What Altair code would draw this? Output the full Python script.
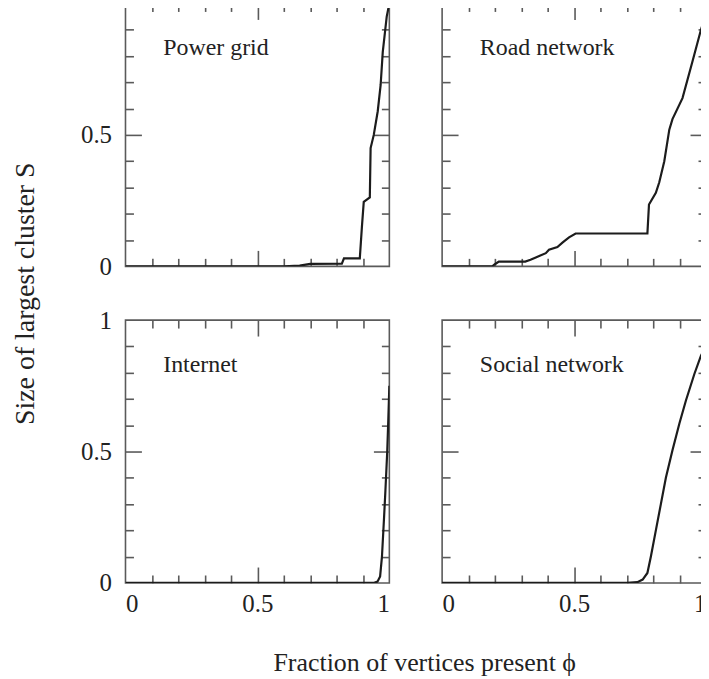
import altair as alt
import pandas as pd

# ---- data ----
phi_power = [0, 0.60, 0.66, 0.70, 0.82, 0.828, 0.888, 0.896, 0.903, 0.926, 0.929, 0.941, 0.956, 0.967, 0.975, 0.99, 1.0]
S_power = [0, 0, 0.003, 0.009, 0.010, 0.030, 0.030, 0.15, 0.245, 0.262, 0.45, 0.50, 0.59, 0.69, 0.815, 0.95, 1.0]

phi_road = [0, 0.19, 0.20, 0.215, 0.315, 0.335, 0.355, 0.393, 0.405, 0.437, 0.456, 0.481, 0.506, 0.778, 0.784, 0.81, 0.823, 0.842, 0.861, 0.873, 0.911, 0.949, 0.981, 1.0]
S_road = [0, 0, 0.008, 0.018, 0.018, 0.025, 0.034, 0.05, 0.063, 0.073, 0.09, 0.11, 0.125, 0.125, 0.235, 0.28, 0.32, 0.40, 0.52, 0.56, 0.64, 0.78, 0.90, 0.96]

phi_internet = [0, 0.94, 0.955, 0.965, 0.972, 0.98, 0.985, 0.992, 0.996, 1.0]
S_internet = [0, 0, 0.005, 0.025, 0.10, 0.25, 0.35, 0.50, 0.62, 0.75]

phi_social = [0, 0.70, 0.74, 0.76, 0.778, 0.791, 0.81, 0.829, 0.848, 0.873, 0.899, 0.924, 0.956, 0.981, 1.0]
S_social = [0, 0, 0.003, 0.013, 0.038, 0.10, 0.20, 0.30, 0.40, 0.505, 0.606, 0.694, 0.795, 0.865, 0.90]

panel_names = ["Power grid", "Road network", "Internet", "Social network"]
minor_ticks = [0.1, 0.2, 0.3, 0.4, 0.5, 0.6, 0.7, 0.8, 0.9]
label_vals = [0, 0.5, 1]
top_label_vals = [0, 0.5]
x_title = "Fraction of vertices present  \u03d5"
y_title = "Size of largest cluster   S"

# ---- style ----
FONT = "Liberation Serif"
TXT = "#222222"
AX = "#5a5a5a"
LINE = "#1c1c1c"
W = 265
H = 264
NAME_X = 0.143   # panel-name anchor, in data units
NAME_Y = 0.803

tick_len = {"condition": {"test": "abs(datum.value - 0.5) < 0.01", "value": 16}, "value": 8}


def tick_axis(orient, offset):
    return alt.Axis(orient=orient, offset=offset, values=minor_ticks, labels=False,
                    domain=False, grid=False, ticks=True, tickSize=tick_len,
                    tickColor=AX, tickWidth=1.6, title=None)


def label_axis(orient, values, **kw):
    args = dict(orient=orient, grid=False, domain=False, ticks=False, tickSize=0,
                format="~g", labelFont=FONT, labelFontSize=25, labelColor=TXT)
    if values:
        args.update(values=values, labels=True)
    else:
        args.update(values=[0], labels=False)
    args.update(kw)
    return alt.Axis(**args)


def panel(name, xs, ys, xvals, yvals, xt=None, yt=None):
    df = pd.DataFrame({"phi": xs, "S": ys})
    base = alt.Chart(df)
    sx = alt.Scale(domain=[0, 1], nice=False, zero=False)
    sy = alt.Scale(domain=[0, 1], nice=False, zero=False)

    xkw = dict(labelPadding=9)
    if xt:
        xkw.update(title=xt, titleFont=FONT, titleFontSize=26, titleFontWeight="normal",
                   titleColor=TXT, titleX=300, titleY=88, titleBaseline="alphabetic",
                   titleAlign="center")
    else:
        xkw.update(title=None)
    ykw = dict(labelPadding=14, labelBaseline="middle")
    if yt:
        ykw.update(title=yt, titleFont=FONT, titleFontSize=28, titleFontWeight="normal",
                   titleColor=TXT, titleX=-92, titleY=-27, titleAngle=270,
                   titleBaseline="alphabetic", titleAlign="center")
    else:
        ykw.update(title=None)

    line = base.mark_line(color=LINE, strokeWidth=2.2, clip=True).encode(
        x=alt.X("phi:Q", scale=sx, axis=label_axis("bottom", xvals, **xkw)),
        y=alt.Y("S:Q", scale=sy, axis=label_axis("left", yvals, **ykw)),
    )
    t1 = base.mark_line(strokeOpacity=0).encode(
        x=alt.X("phi:Q", scale=sx, axis=tick_axis("top", -H)),
        y=alt.Y("S:Q", scale=sy, axis=tick_axis("right", -W)),
    )
    t2 = base.mark_line(strokeOpacity=0).encode(
        x=alt.X("phi:Q", scale=sx, axis=tick_axis("bottom", -H)),
        y=alt.Y("S:Q", scale=sy, axis=tick_axis("left", -W)),
    )
    label = alt.Chart(pd.DataFrame({"name": [name]})).mark_text(
        align="left", baseline="alphabetic", font=FONT, fontSize=24, color=TXT
    ).encode(
        x=alt.XDatum(NAME_X, axis=None, scale=sx),
        y=alt.YDatum(NAME_Y, axis=None, scale=sy),
        text="name:N",
    )
    return alt.layer(t1, t2, line, label).resolve_axis(x="independent", y="independent").properties(
        width=W, height=H)


p1 = panel(panel_names[0], phi_power, S_power, None, top_label_vals)
p2 = panel(panel_names[1], phi_road, S_road, None, None)
p3 = panel(panel_names[2], phi_internet, S_internet, label_vals, label_vals, xt=x_title, yt=y_title)
p4 = panel(panel_names[3], phi_social, S_social, label_vals, None)

chart = alt.concat(p1, p2, p3, p4, columns=2, spacing={"row": 54, "column": 53}, bounds="flush").properties(
    padding={"left": 3, "top": -8, "right": -7, "bottom": 0},
    background="white",
).configure_view(stroke=AX, strokeWidth=1.6)

chart.save("out.html", embed_options={"renderer": "svg", "actions": False})
